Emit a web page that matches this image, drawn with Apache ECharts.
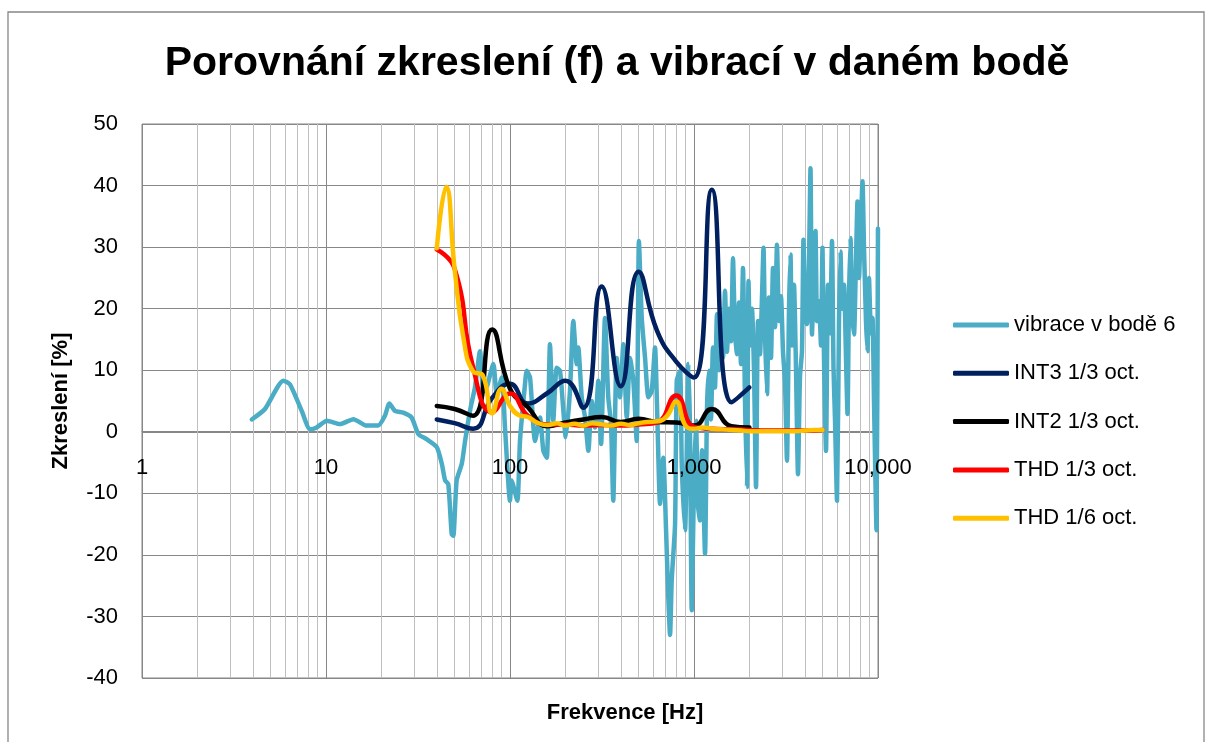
<!DOCTYPE html>
<html>
<head>
<meta charset="utf-8">
<script src="https://cdn.jsdelivr.net/npm/echarts@6/dist/echarts.min.js"></script>
<style>
  html, body { margin: 0; padding: 0; background: #fff; }
  #chart { width: 1207px; height: 742px; }
</style>
</head>
<body>
<div id="chart"></div>
<script>
// vibrace v bodě 6 - frekvence [Hz] a hodnoty
const vibFreq = [3.95, 4.66, 5.86, 6.37, 7.38, 8.19, 8.9, 10.1, 11.9, 14.1, 16.6, 19.2, 20.9, 22.1, 23.7, 26.3, 29.2, 31.8, 35.2, 40,
  42.6, 44.4, 46.2, 48.2, 49.2, 51.3, 54.7, 57, 60.7, 64.5, 68.7, 71.6, 74.7, 81.2, 84.7, 90.2, 94, 100, 102, 109.6,
  113.3, 120.7, 123.3, 128.5, 136.8, 145.6, 151.8, 158.5, 164.9, 171.8, 179.4, 187, 195, 200.9, 211.8, 220.8, 230.5, 235, 245.4, 255.8,
  266.6, 278, 289.8, 302, 312.6, 328.3, 342, 354, 364, 380, 396, 413, 431, 449, 468, 488, 502, 520, 542, 565,
  589, 614, 632, 654, 681, 705, 725, 741, 757, 789, 806, 840, 858, 894, 932, 951, 972,
  1000, 1025, 1051, 1078, 1105, 1148, 1177, 1206, 1237, 1268, 1300, 1333, 1367, 1402, 1438, 1474, 1511, 1550, 1589, 1629,
  1670, 1713, 1756, 1800, 1846, 1893, 1941, 1978, 2015, 2066, 2119, 2173, 2227, 2284, 2342, 2386, 2431, 2493, 2556, 2621,
  2687, 2755, 2825, 2897, 2970, 3045, 3123, 3201, 3283, 3345, 3408, 3495, 3583, 3674, 3767, 3862, 3935, 4010, 4111, 4217,
  4297, 4378, 4490, 4574, 4661, 4779, 4900, 4993, 5088, 5217, 5350, 5485, 5623, 5730, 5839, 5987, 6138, 6255, 6373, 6535,
  6700, 6827, 6957, 7089, 7223, 7406, 7592, 7736, 7883, 8082, 8236, 8391, 8604, 8765, 8933, 9162, 9334, 9512, 9813, 9995];
const vibValues = [2.0, 3.7, 8.3, 7.7, 3.4, 0.4, 0.7, 1.8, 1.25, 2.05, 1.0, 1.0, 2.6, 4.6, 3.4, 3.1, 2.3, -0.4, -1.2, -2.5,
  -5.2, -7.9, -8.5, -16.6, -16.9, -7.9, -5.2, -1.5, 3.5, 7.2, 13.1, 6.6, 7.2, 11, 6.1, 8.8, 0.5, -11.2, -7.9, -11.2,
  -1.5, 7.8, 9.9, 8.8, -1.5, 2.3, -3.1, -4.2, 14.2, 1.8, 10.4, 9.9, 3.4, -0.9, 6.6, 18, 11, 13.7, 5.6, 2.3,
  -3.1, 5, 0.7, 8.3, -2, 18.5, 5.6, 1.3, -11.2, 12, 5.6, 14.2, 2.3, 12, 8.3, -1.5, 31, 18.5, 12, 5.6,
  6.6, 13.7, 2.3, -11.7, -4.2, -16, -26.9, -33, -24, -15, 8.3, 9.9, -5.2, -16, 11, 0.2, -29,
  -8, 1.8, -12, -14.4, -3, -19.8, 4, 9.9, 2, 13.7, 7.2, 19.1, 10, 17, 12, 22.9, 13, 20, 14.7, 28.2,
  16, 12.6, 21, 11, 26.6, 5, -9, 24.5, 14, 20, 9.9, -9, 18, 12.6, 22, 29.9, 16, 6.1, 21.8, 12,
  26.6, 17, 30.4, 18, 22, 13.1, 8, -4.7, 20, 28.8, 14, 23.9, 10.4, -6.9, 9, 13.1, 31.2, 20, 17.5, 28,
  42.8, 15.8, 25, 32.6, 18, 21.2, 14, 29.9, 12, -3.1, 23.9, 16, 31, 10.4, 2, -11.2, 18, 29.3, 20, 23.9,
  12, 2.9, 22, 31.5, 20, 15.8, 28, 37.4, 25, 34, 40.7, 30, 18, 13.1, 25, 16, 18.5, 5, -16, 33];

// 1/3 oktávy
const thirdOctFreq = [40, 50, 63, 80, 100, 125, 160, 200, 250, 315, 400, 500, 630, 800, 1000, 1250, 1600, 2000, 2500, 3150, 4000, 5000];
const int3Values = [2.0, 1.4, 0.5, 5.5, 7.8, 4.6, 6.3, 8.3, 3.9, 23.6, 7.4, 26.0, 16.4, 11.4, 8.8, 39.3, 4.8, 7.2];
const int2Values = [4.2, 3.7, 2.6, 16.6, 7.0, 4.0, 0.9, 1.5, 2.0, 2.4, 1.6, 2.1, 1.6, 1.5, 1.0, 3.7, 0.9, 0.7];
const thd3Values = [29.6, 26.5, 10.5, 3.2, 6.2, 2.6, 1.2, 1.2, 1.0, 1.1, 1.0, 1.2, 1.5, 5.9, 0.8, 0.5, 0.4, 0.3, 0.2, 0.2, 0.2, 0.3];

// 1/6 oktávy
const sixthOctFreq = [40, 45, 50, 56, 63, 71, 80, 90, 100, 112, 125, 140, 160, 180, 200, 224, 250, 280, 315, 355, 400, 450,
  500, 560, 630, 710, 800, 900, 1000, 1120, 1250, 1400, 1600, 1800, 2000, 2240, 2500, 2800, 3150, 3550, 4000, 4500, 5000];
const thd6Values = [29.8, 39.8, 26.5, 15, 9.8, 9.2, 3.0, 7.0, 4.2, 2.7, 2.4, 1.5, 1.1, 1.4, 1.0, 1.3, 1.0, 1.4, 1.2, 1.0, 1.3, 1.1,
  1.4, 1.6, 1.7, 2.5, 4.9, 1.0, 0.5, 0.7, 0.5, 0.4, 0.3, 0.2, 0.1, 0.1, 0.1, 0.1, 0.1, 0.1, 0.2, 0.3, 0.3];

const seriesNames = ['vibrace v bodě 6', 'INT3 1/3 oct.', 'INT2 1/3 oct.', 'THD 1/3 oct.', 'THD 1/6 oct.'];
const seriesColors = ['#4BACC6', '#002060', '#000000', '#FF0000', '#FFC000'];

const FONT = 'Liberation Sans';

// vedlejší mřížka 2..9 v každé dekádě
const minorLines = [];
[1, 10, 100, 1000].forEach(d => {
  for (let k = 2; k <= 9; k++) minorLines.push({ xAxis: d * k });
});

function pairs(xs, ys) {
  return ys.map((y, i) => [xs[i], y]);
}

const chart = echarts.init(document.getElementById('chart'));

function lineSeries(idx, data, smooth) {
  return {
    name: seriesNames[idx],
    type: 'line',
    xAxisIndex: 0,
    data: data,
    smooth: smooth,
    showSymbol: false,
    symbol: 'none',
    lineStyle: { color: seriesColors[idx], width: 4.5, cap: 'round', join: 'round' },
    itemStyle: { color: seriesColors[idx] },
    emphasis: { disabled: true },
    z: 2 + idx
  };
}

const vibSeries = lineSeries(0, pairs(vibFreq, vibValues), 0.2);
vibSeries.markLine = {
  silent: true,
  z: 1,
  symbol: 'none',
  label: { show: false },
  animation: false,
  lineStyle: { color: '#BFBFBF', width: 1, type: 'solid' },
  emphasis: { disabled: true },
  data: minorLines
};

const xBase = {
  type: 'log',
  logBase: 10,
  min: 1,
  max: 10000,
  position: 'bottom',
  // osa x prochází nulou osy y
  offset: -247,
  axisTick: { show: false }
};

const option = {
  animation: false,
  backgroundColor: '#fff',
  textStyle: { fontFamily: FONT },
  title: {
    text: 'Porovnání zkreslení (f) a vibrací v daném bodě',
    left: 612,
    top: 38,
    textAlign: 'center',
    textStyle: { fontFamily: FONT, fontSize: 41, fontWeight: 'bold', color: '#000' }
  },
  graphic: [
    {
      type: 'rect',
      shape: { x: 8, y: 12, width: 1196, height: 740 },
      style: { fill: 'none', stroke: '#878787', lineWidth: 1.3 },
      silent: true
    },
    {
      type: 'text',
      style: {
        text: 'Frekvence [Hz]',
        x: 625, y: 713,
        textAlign: 'center', textVerticalAlign: 'middle',
        font: 'bold 22px "Liberation Sans"', fill: '#000'
      },
      silent: true
    }
  ],
  legend: {
    orient: 'vertical',
    left: 948,
    top: 308,
    itemWidth: 56,
    itemHeight: 5,
    itemGap: 24.3,
    icon: 'roundRect',
    data: seriesNames,
    textStyle: { fontFamily: FONT, fontSize: 22, color: '#000', lineHeight: 24 }
  },
  grid: {
    left: 142, top: 124, right: 329, bottom: 64,
    show: true, borderColor: '#878787', borderWidth: 1
  },
  xAxis: [
    // mřížka pod křivkami
    Object.assign({}, xBase, {
      axisLine: { onZero: false, lineStyle: { color: '#878787', width: 1 } },
      axisLabel: { show: false },
      splitLine: { show: true, lineStyle: { color: '#878787', width: 1 } }
    }),
    // popisky nad křivkami
    Object.assign({}, xBase, {
      z: 10,
      axisLine: { show: false, onZero: false },
      axisLabel: {
        fontFamily: FONT, fontSize: 22, color: '#000', margin: 26,
        formatter: v => Math.round(v).toLocaleString('en-US')
      },
      splitLine: { show: false }
    })
  ],
  yAxis: {
    type: 'value',
    min: -40,
    max: 50,
    interval: 10,
    name: 'Zkreslení [%]',
    nameLocation: 'middle',
    nameRotate: 90,
    nameGap: 70,
    nameTextStyle: { fontFamily: FONT, fontSize: 22, fontWeight: 'bold', color: '#000' },
    axisLine: { show: false },
    axisTick: { show: false },
    axisLabel: { fontFamily: FONT, fontSize: 22, color: '#000', margin: 24 },
    splitLine: { show: true, lineStyle: { color: '#878787', width: 1 } }
  },
  series: [
    vibSeries,
    lineSeries(1, pairs(thirdOctFreq, int3Values), true),
    lineSeries(2, pairs(thirdOctFreq, int2Values), true),
    lineSeries(3, pairs(thirdOctFreq, thd3Values), true),
    lineSeries(4, pairs(sixthOctFreq, thd6Values), true)
  ]
};

chart.setOption(option);
</script>
</body>
</html>
